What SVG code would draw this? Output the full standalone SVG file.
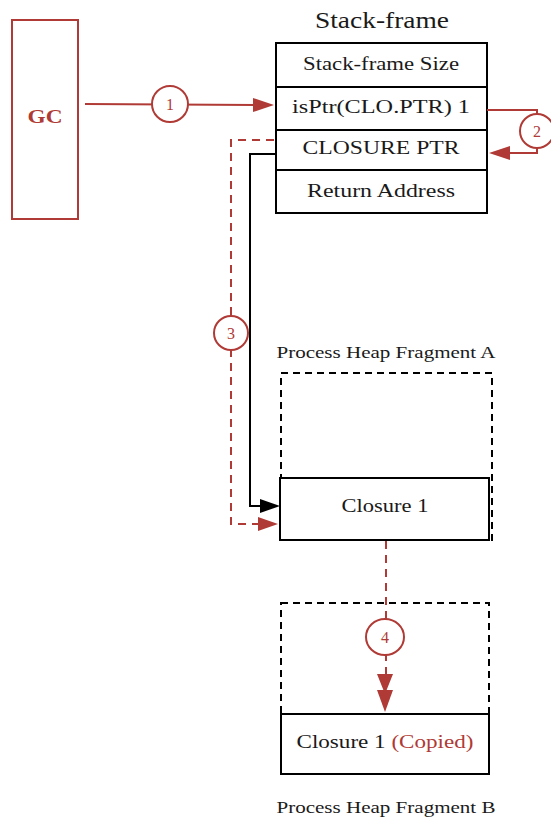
<svg xmlns="http://www.w3.org/2000/svg" width="551" height="817" viewBox="0 0 551 817">
<style>
text{font-family:"Liberation Serif","DejaVu Serif",serif;fill:#1a1a1a;text-anchor:middle}
.box{fill:#fff;stroke:#000;stroke-width:2}
.dash{fill:none;stroke:#000;stroke-width:2;stroke-dasharray:7,5}
.red{stroke:#b03a35;fill:none;stroke-width:2}
.rdash{stroke:#b03a35;fill:none;stroke-width:2;stroke-dasharray:8,6}
.num{fill:#b03a35;font-size:16px}
.circ{fill:#fff;stroke:#b03a35;stroke-width:2}
.blk{stroke:#000;fill:none;stroke-width:2}
</style>

<g id="gc">
<rect x="12" y="20" width="66" height="199" fill="#fff" stroke="#b03a35" stroke-width="2"/>
<text x="45" y="123" textLength="35" lengthAdjust="spacingAndGlyphs" style="fill:#b03a35;font-weight:bold;font-size:19px">GC</text>
</g>

<g id="stack-frame">
<text x="382" y="28" font-size="23" textLength="134" lengthAdjust="spacingAndGlyphs">Stack-frame</text>
<rect class="box" x="276" y="43" width="211" height="44"/>
<text x="381" y="70" font-size="19" textLength="156" lengthAdjust="spacingAndGlyphs">Stack-frame Size</text>
<rect class="box" x="276" y="87" width="211" height="43"/>
<text x="381" y="113" font-size="19" textLength="178" lengthAdjust="spacingAndGlyphs">isPtr(CLO.PTR) 1</text>
<rect class="box" x="276" y="130" width="211" height="40"/>
<text x="381" y="154" font-size="19" textLength="157" lengthAdjust="spacingAndGlyphs">CLOSURE PTR</text>
<rect class="box" x="276" y="170" width="211" height="43"/>
<text x="381" y="197" font-size="19" textLength="148" lengthAdjust="spacingAndGlyphs">Return Address</text>
</g>

<g id="heap-a">
<text x="386" y="358" font-size="17" textLength="219" lengthAdjust="spacingAndGlyphs">Process Heap Fragment A</text>
<rect class="dash" x="281" y="373" width="211" height="167"/>
</g>
<g id="closure1">
<rect class="box" x="280" y="478" width="209" height="62"/>
<text x="385" y="512" font-size="19" textLength="87" lengthAdjust="spacingAndGlyphs">Closure 1</text>
</g>

<g id="heap-b">
<rect class="dash" x="281" y="603" width="208" height="171"/>
<text x="386" y="813" font-size="17" textLength="219" lengthAdjust="spacingAndGlyphs">Process Heap Fragment B</text>
</g>
<g id="closure1-copied">
<rect class="box" x="281" y="714" width="208" height="60"/>
<text x="385" y="748" font-size="19" textLength="177" lengthAdjust="spacingAndGlyphs">Closure 1 <tspan style="fill:#b03a35">(Copied)</tspan></text>
</g>

<g id="connectors">
<path class="red" d="M85,104 L260,105"/>
<path d="M274,105 L253,98 L253,112z" fill="#b03a35"/>
<circle class="circ" cx="170" cy="104" r="18"/>
<text class="num" x="170" y="110">1</text>

<path class="red" d="M487,110 L537,110 L537,153 L505,153"/>
<path d="M489,153 L510,146 L510,160z" fill="#b03a35"/>
<circle class="circ" cx="537" cy="131" r="17"/>
<text class="num" x="537" y="137">2</text>

<path class="rdash" d="M274,140 L231,140 L231,524 L262,524"/>
<path d="M278,524 L258,517 L258,531z" fill="#b03a35"/>
<circle class="circ" cx="231" cy="333" r="17"/>
<text class="num" x="231" y="339">3</text>

<path class="blk" d="M276,154 L250,154 L250,506 L262,506"/>
<path d="M280,506 L260,499 L260,513z" fill="#000"/>

<path class="rdash" d="M386,541 L386,676"/>
<path d="M385,694 L377,674 L393,674z" fill="#b03a35"/>
<path d="M385,712 L377,690 L393,690z" fill="#b03a35"/>
<ellipse class="circ" cx="385" cy="637" rx="19" ry="18"/>
<text class="num" x="385" y="643">4</text>
</g>
</svg>
